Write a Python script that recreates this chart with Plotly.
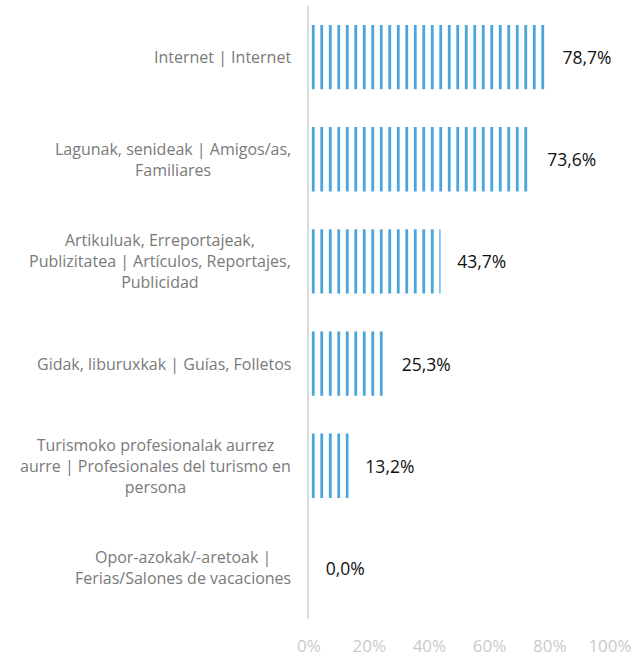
import plotly.graph_objects as go

categories = [
    "Internet | Internet",
    "Lagunak, senideak | Amigos/as,<br>Familiares",
    "Artikuluak, Erreportajeak,<br>Publizitatea | Artículos, Reportajes,<br>Publicidad",
    "Gidak, liburuxkak | Guías, Folletos",
    "Turismoko profesionalak aurrez<br>aurre | Profesionales del turismo en<br>persona",
    "Opor-azokak/-aretoak |<br>Ferias/Salones de vacaciones",
]
values = [78.7, 73.6, 43.7, 25.3, 13.2, 0.0]
tick_vals = [0, 20, 40, 60, 80, 100]
tick_text = ["0%", "20%", "40%", "60%", "80%", "100%"]

FONT = "Open Sans"
BLUE = "#4aa6dc"

fig = go.Figure()
fig.add_trace(go.Bar(
    x=values,
    y=categories,
    orientation="h",
    marker=dict(
        color="white",
        line=dict(width=0),
        pattern=dict(shape="|", fgcolor=BLUE, fgopacity=1, bgcolor="white",
                     size=8.5, solidity=0.33, fillmode="replace"),
    ),
    texttemplate="\u00a0\u00a0\u00a0%{x:.1f}%",
    textposition="outside",
    textfont=dict(family=FONT, size=17.5, color="#111111"),
    cliponaxis=False,
    width=0.63,
    hoverinfo="skip",
))

annotations = []
for c in categories:
    annotations.append(dict(
        x=0, xref="paper", y=c, yref="y",
        text=c, showarrow=False,
        xanchor="right", yanchor="middle", align="center",
        xshift=-16,
        font=dict(family=FONT, size=16, color="#7a7a7a"),
    ))

fig.update_layout(
    width=633, height=657,
    margin=dict(l=309, r=23, t=6, b=38, autoexpand=False),
    paper_bgcolor="white", plot_bgcolor="white",
    separators=",.",
    showlegend=False,
    hovermode=False,
    annotations=annotations,
    xaxis=dict(
        range=[0, 100], tickvals=tick_vals, ticktext=tick_text,
        showgrid=False, zeroline=False, showline=False, automargin=False,
        tickfont=dict(family=FONT, size=17, color="#cacaca"),
        ticks="", fixedrange=True, ticklabelstandoff=15,
    ),
    yaxis=dict(
        autorange="reversed", showticklabels=False, showgrid=False,
        showline=True, linecolor="#dcdcdc", linewidth=2, ticks="",
        zeroline=False, automargin=False, fixedrange=True,
    ),
)

fig.write_html(
    "out.html",
    config={"displayModeBar": False},
    post_script="document.body.style.margin='0';document.body.style.overflow='hidden';",
)
